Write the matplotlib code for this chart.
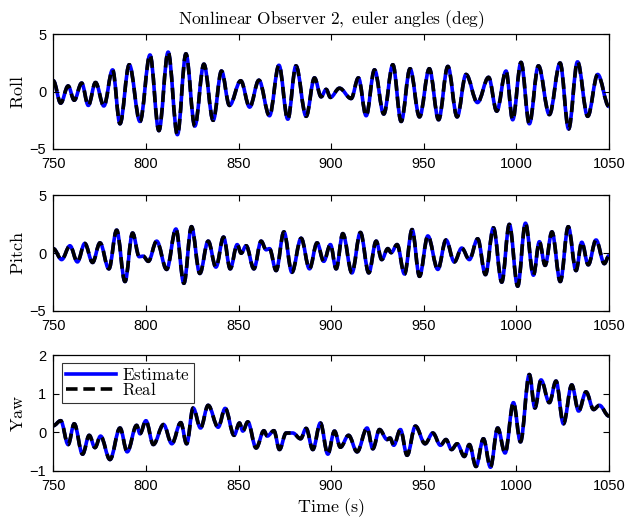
import numpy as np
import matplotlib
matplotlib.use("Agg")
import matplotlib.pyplot as plt
from matplotlib.path import Path
from matplotlib.patches import PathPatch
from matplotlib.lines import Line2D

plt.rcParams['mathtext.fontset'] = 'cm'
plt.rcParams['font.family'] = ['Liberation Sans', 'DejaVu Sans']

# ---- data: turning points (time s, angle deg) ----
roll_t = [750, 754, 758, 761.3, 765.3, 768.9, 772.8, 777.3, 782, 786, 791, 796.8, 802.2, 807, 812,
          817, 821.6, 826.4, 831.3, 836.3, 840.8, 845.1, 851.2, 856, 861, 866.7, 871.8, 876.6, 881,
          886.5, 891, 894.6, 897.3, 899.6, 904.5, 910.8, 914.7, 918.9, 923.4, 928.4, 933.3, 937.8,
          942.6, 947.7, 953, 958, 963, 968, 972.8, 979, 985, 989.4, 994.4, 998, 1002.5, 1007, 1011.9,
          1017.8, 1023.6, 1028.2, 1033, 1038.5, 1043.9, 1050]
roll_v = [0.95, -1.0, 0.5, -0.75, 0.75, -1.2, 0.8, -1.25, 1.9, -2.8, 2.35, -2.6, 3.2, -3.4, 3.45,
          -3.75, 3.3, -3.0, 2.4, -2.5, 1.8, -1.2, 0.95, -1.35, 1.0, -2.1, 2.3, -2.4, 2.25,
          -2.15, 1.2, -0.45, 0.2, -0.5, 0.3, -0.6, 1.2, -2.1, 1.9, -1.95, 2.35, -2.6,
          2.0, -2.2, 2.0, -2.45, 2.2, -2.2, 1.5, -0.95, 1.25, -1.7, 1.8, -2.45, 2.55, -2.8, 2.25,
          -2.0, 2.5, -3.25, 2.6, -2.15, 1.5, -1.3]

pitch_t = [750, 754.5, 759, 763, 767, 771.2, 775.2, 780, 784.2, 788.7, 792.8, 796.4, 798.5, 801.3,
           805.8, 811.2, 816.2, 820.5, 824.6, 829.1, 833.6, 837.8, 841.9, 845.5, 849.3, 851.4, 854.1,
           858.3, 862.2, 864.9, 866.7, 870.3, 874.5, 878.8, 883.8, 888.3, 892.4, 896, 899.6, 902.7,
           906.3, 911.2, 915.8, 920.3, 924.3, 927.3, 930.6, 932.4, 935.6, 939.6, 943.7, 947.7, 952.2,
           957.6, 962, 966.5, 970.5, 974.6, 979.1, 983.3, 987.6, 992.1, 996.2, 1000.7, 1004.9, 1009.2,
           1012.4, 1015.5, 1019.2, 1023.7, 1028, 1032.2, 1035.3, 1038.8, 1043, 1047.5, 1050]
pitch_v = [0.4, -0.55, 0.65, -0.75, 0.85, -0.8, 0.9, -1.35, 2.0, -2.45, 1.75, -0.3, -0.25, -0.7,
           1.05, -1.4, 2.1, -2.6, 2.3, -1.75, 1.05, -1.2, 1.4, -1.35, 0.75, 0.0, 0.65,
           -1.35, 1.05, 0.3, 0.4, -1.5, 1.85, -1.65, 1.3, -1.35, 0.9, -0.7, 0.75, -1.35,
           1.7, -1.7, 1.8, -1.7, 1.05, -0.55, 0.4, 0.05, 0.75, -1.8, 2.05, -2.0, 1.5,
           -1.4, 1.15, -0.75, 0.45, -0.55, 1.25, -1.85, 2.2, -2.5, 2.5, -2.85, 2.6, -1.9,
           1.0, -1.05, 1.85, -2.45, 2.3, -1.5, 0.95, -1.0, 1.15, -0.9, -0.2]

yaw_t = [750, 754, 758, 761.3, 765.8, 769.4, 772.5, 775.5, 780.6, 786, 789.9, 795, 796.8, 800, 804,
         809.5, 814, 818.8, 822, 825.5, 829.5, 833.6, 839, 842.8, 847.6, 850.5, 852.3, 855, 859.5,
         863.7, 865.5, 869.1, 872.1, 875.7, 879.3, 883.5, 886.5, 890.1, 894.2, 898.2, 901.8, 905,
         909.4, 914, 919.4, 922.5, 926.1, 930.2, 931.8, 933.8, 937.4, 941, 945.5, 950.7, 954.9, 959,
         962, 965, 968, 971.9, 974.6, 978.2, 982.2, 986, 989.9, 993.9, 998.4, 1002.2, 1007, 1010,
         1013.3, 1017.8, 1021.4, 1025.4, 1029.9, 1033.6, 1037.6, 1041.7, 1044.8, 1050]
yaw_v = [0.17, 0.3, -0.32, 0.22, -0.57, -0.08, -0.4, -0.1, -0.71, 0.11, -0.51, 0.18, -0.04, 0.3, -0.32,
         0.2, -0.3, 0.25, -0.3, 0.63, 0.11, 0.7, 0.13, 0.62, -0.08, 0.24, 0.03, 0.27, -0.41,
         0.04, -0.1, 0.04, -0.45, -0.02, -0.02, -0.17, 0.1, -0.45, 0.24, -0.57, 0.03, -0.39,
         -0.08, -0.51, 0.11, -0.43, 0.07, -0.19, -0.15, -0.34, 0.07, -0.6, 0.16, -0.3, -0.02, -0.34,
         -0.19, -0.45, -0.3, -0.63, -0.32, -0.89, -0.17, -0.91, 0.11, -0.54, 0.77, -0.25, 1.5, 0.63,
         1.36, 0.77, 1.33, 0.22, 1.23, 0.55, 1.05, 0.59, 0.7, 0.42]

panels = [("Roll", roll_t, roll_v, (-5, 5), [-5, 0, 5]),
          ("Pitch", pitch_t, pitch_v, (-5, 5), [-5, 0, 5]),
          ("Yaw", yaw_t, yaw_v, (-1, 2), [-1, 0, 1, 2])]
xticks = [750, 800, 850, 900, 950, 1000, 1050]


def smooth_path(t, v, k=0.36):
    verts = [(t[0], v[0])]
    codes = [Path.MOVETO]
    for i in range(len(t) - 1):
        dt = t[i + 1] - t[i]
        verts += [(t[i] + k * dt, v[i]), (t[i + 1] - k * dt, v[i + 1]), (t[i + 1], v[i + 1])]
        codes += [Path.CURVE4] * 3
    return Path(verts, codes)


W, H = 628, 523
fig = plt.figure(figsize=(W / 100, H / 100), dpi=100)
boxes = [(34.3, 149.0), (195.5, 311.0), (355.3, 470.7)]
left, right = 53.3, 609.0

blue = (0, 0, 1)
lw = 2.6
dash = (0, (3.2, 1.6))
for (name, t, v, ylim, yt), (top, bot) in zip(panels, boxes):
    ax = fig.add_axes([left / W, 1 - bot / H, (right - left) / W, (bot - top) / H])
    p = smooth_path(t, v)
    ax.add_patch(PathPatch(p, facecolor='none', edgecolor=blue, lw=lw, capstyle='butt', joinstyle='round'))
    ax.add_patch(PathPatch(p, facecolor='none', edgecolor='black', lw=lw,
                           linestyle=dash, capstyle='butt', joinstyle='round'))
    ax.set_xlim(750, 1050)
    ax.set_ylim(*ylim)
    ax.set_xticks(xticks)
    ax.set_yticks(yt)
    ax.tick_params(direction='in', top=True, right=True, length=4, width=0.8, labelsize=10.5)
    ax.tick_params(axis='x', pad=6)
    ax.tick_params(axis='y', pad=5)
    for s in ax.spines.values():
        s.set_linewidth(0.9)
    ax.set_ylabel(r'$\mathrm{%s}$' % name, fontsize=13, labelpad=2)
    if name == "Roll":
        ax.set_title(r'$\mathrm{Nonlinear\ Observer\ 2,\ euler\ angles\ (deg)}$', fontsize=12.5, pad=7)
    if name == "Yaw":
        ax.set_xlabel(r'$\mathrm{Time\ (s)}$', fontsize=13, labelpad=2)
        handles = [Line2D([], [], color=blue, lw=lw),
                   Line2D([], [], color='black', lw=lw, linestyle=dash)]
        leg = ax.legend(handles, [r'$\mathrm{Estimate}$', r'$\mathrm{Real}$'],
                        loc='upper left', bbox_to_anchor=(0.016, 0.935), fontsize=12.2,
                        frameon=True, fancybox=False, handlelength=2.9, handletextpad=0.4,
                        borderpad=0.25, labelspacing=-0.1, borderaxespad=0.0)
        leg.get_frame().set_edgecolor('black')
        leg.get_frame().set_linewidth(0.8)

fig.savefig("out.png", dpi=100)
